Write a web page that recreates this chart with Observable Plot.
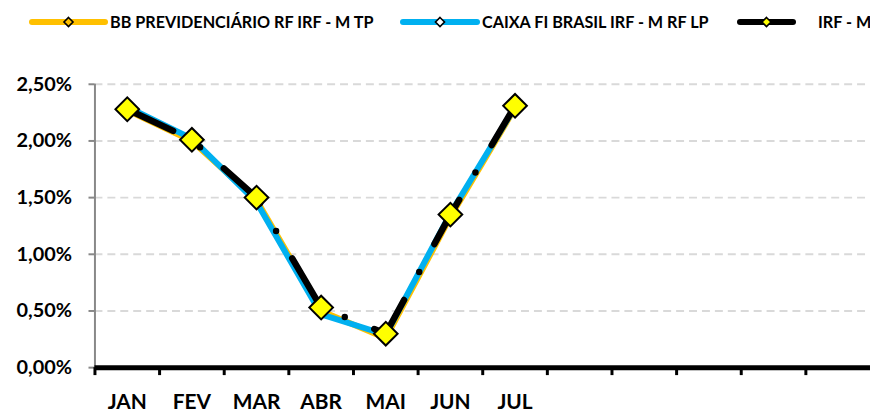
<!DOCTYPE html>
<html>
<head>
<meta charset="utf-8">
<script src="https://cdn.jsdelivr.net/npm/d3@7"></script>
<script src="https://cdn.jsdelivr.net/npm/@observablehq/plot@0.6"></script>
<style>
  html, body { margin: 0; padding: 0; background: white; overflow: hidden; width: 870px; height: 414px; }
  #legend { position: relative; width: 870px; height: 45px; overflow: hidden; }
  #chart { width: 870px; overflow: hidden; }
  #chart svg { display: block; }
</style>
</head>
<body>
<div id="legend"></div>
<div id="chart"></div>
<script>
const months = ["JAN","FEV","MAR","ABR","MAI","JUN","JUL","AGO","SET","OUT","NOV","DEZ"];
const tickLabels = ["JAN","FEV","MAR","ABR","MAI","JUN","JUL","","","","",""];
const dataMonths = ["JAN","FEV","MAR","ABR","MAI","JUN","JUL"];
const seriesNames = ["BB PREVIDENCIÁRIO RF IRF - M TP", "CAIXA FI BRASIL IRF - M RF LP", "IRF - M"];
const bbValues    = [2.27, 2.00, 1.48, 0.50, 0.26, 1.33, 2.29];
const caixaValues = [2.30, 2.02, 1.46, 0.47, 0.29, 1.36, 2.30];
const irfmValues  = [2.28, 2.01, 1.50, 0.53, 0.30, 1.35, 2.31];
const yTicks = [0, 0.5, 1, 1.5, 2, 2.5];

const colors = ["#FFC000", "#00B0F0", "#000000"];
const FONT = "Lato, 'Noto Sans', sans-serif";

const rows = (vals) => dataMonths.map((m, i) => ({month: m, value: vals[i]}));
const bb = rows(bbValues), caixa = rows(caixaValues), irfm = rows(irfmValues);

// Legend
const legendItems = [
  {name: seriesNames[0], color: colors[0], x0: 32, len: 73, gap: 5, markerFill: "#FFC000"},
  {name: seriesNames[1], color: colors[1], x0: 403, len: 74, gap: 5, markerFill: "#ffffff"},
  {name: seriesNames[2], color: colors[2], x0: 740, len: 53, gap: 25, markerFill: "#FFFF00"}
];
const ns = "http://www.w3.org/2000/svg";
const lsvg = document.createElementNS(ns, "svg");
lsvg.setAttribute("width", 870); lsvg.setAttribute("height", 45);
for (const it of legendItems) {
  const line = document.createElementNS(ns, "line");
  line.setAttribute("x1", it.x0); line.setAttribute("x2", it.x0 + it.len);
  line.setAttribute("y1", 22); line.setAttribute("y2", 22);
  line.setAttribute("stroke", it.color); line.setAttribute("stroke-width", 6);
  line.setAttribute("stroke-linecap", "round");
  lsvg.appendChild(line);
  const cx = it.x0 + it.len / 2;
  const d = document.createElementNS(ns, "path");
  d.setAttribute("d", `M${cx},${22-4.5}L${cx+4.5},22L${cx},${22+4.5}L${cx-4.5},22Z`);
  d.setAttribute("fill", it.markerFill); d.setAttribute("stroke", "black"); d.setAttribute("stroke-width", 1.6);
  lsvg.appendChild(d);
  const t = document.createElementNS(ns, "text");
  t.setAttribute("x", it.x0 + it.len + it.gap);
  t.setAttribute("y", 22); t.setAttribute("dy", "0.36em");
  t.setAttribute("font-family", FONT); t.setAttribute("font-weight", "bold");
  t.setAttribute("font-size", 16.2); t.setAttribute("fill", "black");
  t.textContent = it.name;
  lsvg.appendChild(t);
}
document.getElementById("legend").appendChild(lsvg);

const fmt = d => d.toFixed(2).replace(".", ",") + "%";

const chart = Plot.plot({
  width: 875,
  height: 369,
  marginLeft: 95,
  marginRight: 0,
  marginTop: 39,
  marginBottom: 45,
  x: {type: "band", domain: months, padding: 0, axis: null, label: null},
  y: {domain: [0, 2.5], axis: null, label: null},
  style: {fontFamily: FONT, background: "white"},
  marks: [
    Plot.ruleY(yTicks.filter(d => d > 0), {stroke: "#d9d9d9", strokeWidth: 2, strokeDasharray: "8,5"}),
    Plot.axisY({ticks: yTicks, tickFormat: fmt, tickSize: 6, tickPadding: 17, stroke: "#888", strokeWidth: 2,
      fill: "black", fontSize: 20, fontWeight: "bold", label: null}),
    Plot.ruleX([months[0]], {dx: -32.5, stroke: "#888", strokeWidth: 2}),
    Plot.line(bb, {x: "month", y: "value", stroke: colors[0], strokeWidth: 6, strokeLinejoin: "round"}),
    Plot.line(caixa, {x: "month", y: "value", stroke: colors[1], strokeWidth: 6, strokeLinejoin: "round"}),
    Plot.line(irfm, {x: "month", y: "value", stroke: colors[2], strokeWidth: 6.5, strokeLinecap: "round",
      strokeLinejoin: "round", strokeDasharray: "51 32 0 32"}),
    Plot.ruleY([0], {stroke: "black", strokeWidth: 5}),
    Plot.axisX({ticks: months, tickFormat: () => "", tickSize: 8, dx: -32.5, stroke: "black", strokeWidth: 3, label: null}),
    Plot.axisX({ticks: months, tickFormat: d => tickLabels[months.indexOf(d)], tickSize: 0, tickPadding: 27,
      fill: "black", fontSize: 21, fontWeight: "bold", label: null}),
    Plot.dot(irfm, {x: "month", y: "value", symbol: "square", r: 9.5, rotate: 45,
      fill: "#FFFF00", stroke: "black", strokeWidth: 2})
  ]
});
document.getElementById("chart").appendChild(chart);
</script>
</body>
</html>
